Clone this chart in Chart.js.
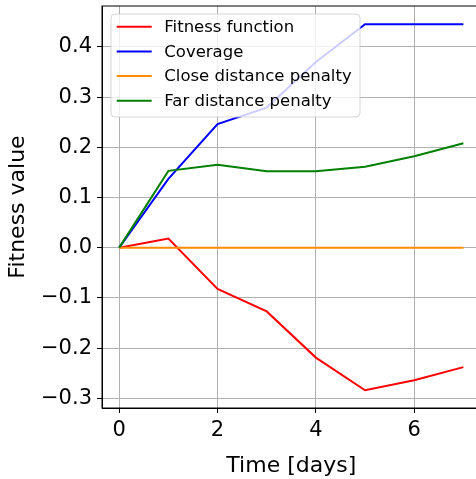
<!DOCTYPE html>
<html>
<head>
<meta charset="utf-8">
<script src="https://cdn.jsdelivr.net/npm/chart.js@4/dist/chart.umd.min.js"></script>
<style>
  html, body { margin: 0; padding: 0; background: #fff; overflow: hidden; }
  #wrap { width: 490px; height: 479px; }
</style>
</head>
<body>
<div id="wrap"><canvas id="myChart" width="490" height="479"></canvas></div>
<script>
var days = [0, 1, 2, 3, 4, 5, 6, 7];
var fitness = [0, 0.018, -0.082, -0.127, -0.219, -0.284, -0.264, -0.238];
var coverage = [0, 0.137, 0.246, 0.279, 0.370, 0.445, 0.445, 0.445];
var closePenalty = [0, 0, 0, 0, 0, 0, 0, 0];
var farPenalty = [0, 0.153, 0.165, 0.152, 0.152, 0.161, 0.182, 0.208];
var seriesNames = ["Fitness function", "Coverage", "Close distance penalty", "Far distance penalty"];
var seriesColors = ["#ff0000", "#0000ff", "#ff8c00", "#008000"];
var xTicks = [0, 2, 4, 6];
var yTicks = [-0.3, -0.2, -0.1, 0.0, 0.1, 0.2, 0.3, 0.4];

var FONT = "'DejaVu Sans', sans-serif";

function pts(vals) {
  return days.map(function (d, i) { return { x: d, y: vals[i] }; });
}

var allSeries = [fitness, coverage, closePenalty, farPenalty];
var datasets = allSeries.map(function (vals, i) {
  return {
    label: seriesNames[i],
    data: pts(vals),
    borderColor: seriesColors[i],
    backgroundColor: seriesColors[i],
    borderWidth: 2,
    pointRadius: 0,
    fill: false,
    tension: 0,
    order: allSeries.length - i
  };
});

// legend drawn on top of the lines, like matplotlib's
var boxLegend = {
  id: "boxLegend",
  afterDatasetsDraw: function (chart) {
    var ctx = chart.ctx;
    var x0 = 111, y0 = 14, w = 249, h = 103, r = 4;
    ctx.save();
    ctx.beginPath();
    ctx.moveTo(x0 + r, y0);
    ctx.arcTo(x0 + w, y0, x0 + w, y0 + h, r);
    ctx.arcTo(x0 + w, y0 + h, x0, y0 + h, r);
    ctx.arcTo(x0, y0 + h, x0, y0, r);
    ctx.arcTo(x0, y0, x0 + w, y0, r);
    ctx.closePath();
    ctx.fillStyle = "rgba(255,255,255,0.8)";
    ctx.fill();
    ctx.strokeStyle = "rgba(204,204,204,0.8)";
    ctx.lineWidth = 1;
    ctx.stroke();
    ctx.font = "16.5px " + FONT;
    ctx.textBaseline = "middle";
    ctx.fillStyle = "#000";
    chart.data.datasets.forEach(function (ds, i) {
      var yy = 26.7 + i * 24.7;
      ctx.beginPath();
      ctx.moveTo(116.7, yy);
      ctx.lineTo(151.7, yy);
      ctx.strokeStyle = ds.borderColor;
      ctx.lineWidth = 2;
      ctx.stroke();
      ctx.fillText(ds.label, 164.3, yy + 1);
    });
    ctx.restore();
  },
  afterDraw: function (chart) {
    var a = chart.chartArea;
    var ctx = chart.ctx;
    ctx.save();
    ctx.strokeStyle = "#000";
    ctx.lineWidth = 1;
    ctx.strokeRect(a.left, a.top, a.right - a.left, a.bottom - a.top);
    ctx.restore();
  }
};

function fmtY(v) {
  return v < 0 ? "\u2212" + Math.abs(v).toFixed(1) : v.toFixed(1);
}

new Chart("myChart", {
  type: "line",
  data: { datasets: datasets },
  plugins: [boxLegend],
  options: {
    responsive: false,
    animation: false,
    layout: { padding: { top: 6, right: 9.4, bottom: 0, left: 0 } },
    plugins: { legend: { display: false }, tooltip: { enabled: false } },
    scales: {
      x: {
        type: "linear",
        min: -0.35,
        max: 7.35,
        afterBuildTicks: function (axis) {
          axis.ticks = xTicks.map(function (v) { return { value: v }; });
        },
        afterFit: function (axis) {
          axis.height = 71;
          axis.paddingLeft = 0;
          axis.paddingRight = 0;
        },
        ticks: {
          autoSkip: false,
          maxRotation: 0,
          color: "#000",
          padding: 5,
          font: { family: FONT, size: 21 },
          callback: function (v) { return String(v); }
        },
        grid: { color: "#b0b0b0", lineWidth: 1, tickColor: "#000", tickLength: 5 },
        border: { color: "#000", width: 1 },
        title: {
          display: true,
          text: "Time [days]",
          color: "#000",
          font: { family: FONT, size: 22 },
          padding: { top: 7, bottom: 0 }
        }
      },
      y: {
        type: "linear",
        min: -0.3194,
        max: 0.4814,
        afterBuildTicks: function (axis) {
          axis.ticks = yTicks.map(function (v) { return { value: v }; });
        },
        afterFit: function (axis) {
          axis.width = 102;
          axis.paddingTop = 0;
          axis.paddingBottom = 0;
        },
        ticks: {
          autoSkip: false,
          color: "#000",
          padding: 5,
          font: { family: FONT, size: 21 },
          callback: function (v) { return fmtY(v); }
        },
        grid: { color: "#b0b0b0", lineWidth: 1, tickColor: "#000", tickLength: 5 },
        border: { color: "#000", width: 1 },
        title: {
          display: true,
          text: "Fitness value",
          color: "#000",
          font: { family: FONT, size: 22 },
          padding: { top: 5, bottom: 0 }
        }
      }
    }
  }
});
</script>
</body>
</html>
